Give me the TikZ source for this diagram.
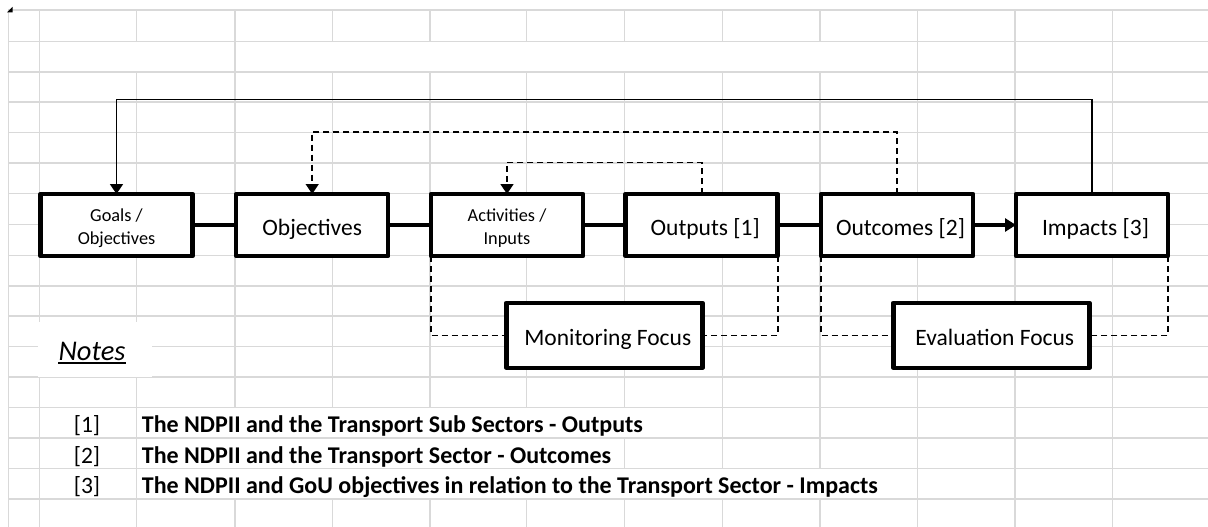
\documentclass[tikz,border=0pt]{standalone}
\usepackage{fontspec}
\setmainfont{Carlito}
\usetikzlibrary{arrows.meta}
\definecolor{gridgray}{RGB}{217,217,217}

\begin{document}
\begin{tikzpicture}[x=1pt,y=-1pt,
  gridline/.style={draw=gridgray, line width=1.5pt},
  stage/.style={draw, line width=4.5pt, line join=round, fill=white,
    minimum width=152pt, minimum height=62pt, inner sep=0pt, outer sep=0pt,
    align=center, text height=23pt, text depth=2pt,
    font=\fontsize{23.5}{28}\selectfont},
  stagesmall/.style={stage, text height=40pt, text depth=1.4pt,
    font=\fontsize{18.3}{22.6}\selectfont},
  focusbox/.style={draw, line width=4.5pt, line join=round, fill=white,
    minimum width=196pt, minimum height=65pt, inner sep=0pt, outer sep=0pt,
    text height=21pt, text depth=1.5pt,
    font=\fontsize{23.5}{28}\selectfont},
  link/.style={line width=4.5pt},
  feedback/.style={line width=1.6pt, -{Triangle[width=13pt,length=10pt]}},
  feedbackdash/.style={feedback, dash pattern=on 6pt off 4pt},
  bracket/.style={line width=1.6pt, dash pattern=on 6pt off 4pt},
  notetext/.style={inner sep=0pt, font=\fontsize{23.5}{28}\selectfont},
  noteline/.style={notetext, anchor=base west, font=\fontsize{24}{28}\selectfont\bfseries},
]
\useasboundingbox (0,0) rectangle (1208,527);
\fill[white] (0,0) rectangle (1208,527);

% spreadsheet grid: row lines
\foreach \y in {10,41.5,72,102,132.5,163,193.5,224.5,255.5,286,316,346.5,377,407.5,438,468.5,499}
  \draw[gridline] (8.3,\y) -- (1208,\y);
% column lines, interrupted where cells are merged or text runs across
\foreach \x/\a/\b in {
  8.3/10/527, 39.3/10/527,
  136.7/10/41.5, 136.7/72/527,
  235/10/407.5, 235/499/527,
  332.3/10/41.5, 332.3/72/407.5, 332.3/499/527,
  430/10/41.5, 430/72/407.5, 430/499/527,
  526.7/10/41.5, 526.7/72/407.5, 526.7/499/527,
  624.3/10/41.5, 624.3/72/407.5, 624.3/438/468.5, 624.3/499/527,
  722.7/10/41.5, 722.7/72/468.5, 722.7/499/527,
  820/10/41.5, 820/72/468.5, 820/499/527,
  917.3/10/527, 1015/10/527, 1112.7/10/527}
  \draw[gridline] (\x,\a) -- (\x,\b);
% corner marker
\fill (12.5,7) -- (12.5,12.5) -- (7,12.5) -- cycle;

% results chain
\node[stagesmall] (goals) at (116.5,225) {Goals /\\Objectives};
\node[stage] (obj) at (312.2,225) {Objectives};
\node[stagesmall] (act) at (507,225) {Activities /\\Inputs};
\node[stage] (out) at (701.7,225) {\hspace*{7pt}Outputs [1]};
\node[stage] (outc) at (897,225) {\hspace*{7pt}Outcomes [2]};
\node[stage] (imp) at (1092,225) {\hspace*{7pt}Impacts [3]};

\draw[link] (goals.east) -- (obj.west);
\draw[link] (obj.east) -- (act.west);
\draw[link] (act.east) -- (out.west);
\draw[link] (out.east) -- (outc.west);
\draw[link, -{Triangle[width=13pt,length=11pt]}] (outc.east) -- (imp.west);

% feedback loops
\coordinate (lvl1) at (0,99.3);
\coordinate (lvl2) at (0,131.7);
\coordinate (lvl3) at (0,162.3);
\draw[feedback] (imp.north) -- (imp.north |- lvl1) -| (goals.north);
\draw[feedbackdash] (outc.north) -- (outc.north |- lvl2) -| (obj.north);
\draw[feedbackdash] (out.north) -- (out.north |- lvl3) -| (act.north);

% monitoring and evaluation focus
\node[focusbox] (mon) at (604.3,335.3) {\hspace*{7pt}Monitoring Focus};
\node[focusbox] (eval) at (991.3,335.3) {\hspace*{7pt}Evaluation Focus};
\draw[bracket] (act.south west) |- (mon.west);
\draw[bracket] (out.south east) |- (mon.east);
\draw[bracket] (outc.south west) |- (eval.west);
\draw[bracket] (imp.south east) |- (eval.east);

% notes
\fill[white] (38,322) rectangle (152,377);
\node[inner sep=0pt, anchor=base, font=\fontsize{28.5}{34}\selectfont\itshape] (notes) at (92,360) {Notes};
\draw[line width=1.5pt] ([yshift=-3pt]notes.base west) -- ([yshift=-3pt]notes.base east);

\node[notetext, anchor=base] (n1) at (87,432.7) {[1]};
\node[notetext, anchor=base] (n2) at (87,463.2) {[2]};
\node[notetext, anchor=base] (n3) at (87,493.5) {[3]};
\node[noteline] (t1) at (141.7,432.7) {The NDPII and the Transport Sub Sectors - Outputs};
\node[noteline] (t2) at (141.7,463.2) {The NDPII and the Transport Sector - Outcomes};
\node[noteline] (t3) at (141.7,493.5) {The NDPII and GoU objectives in relation to the Transport Sector - Impacts};
\end{tikzpicture}
\end{document}
